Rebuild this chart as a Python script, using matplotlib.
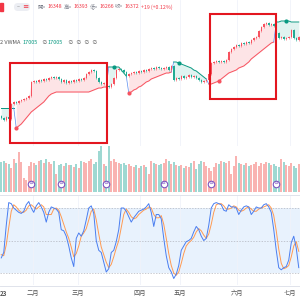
import numpy as np
import matplotlib.pyplot as plt
from matplotlib.patches import Rectangle, FancyBboxPatch
from matplotlib.lines import Line2D

plt.rcParams['font.family'] = ['Noto Sans CJK TC', 'DejaVu Sans']

# daily closes, Jan - Jul 2023
close = [14752, 14712, 14772, 14732, 15032, 15072, 15052, 15092, 15112, 15132,
         15152, 15192, 15472, 15492, 15472, 15512, 15492, 15532, 15512, 15552,
         15572, 15552, 15572, 15532, 15472, 15512, 15452, 15492, 15472, 15512,
         15492, 15532, 15512, 15552, 15632, 15672, 15712, 15692, 15552, 15472,
         15432, 15452, 15392, 15372, 15432, 15552, 15712, 15732, 15712, 15672,
         15592, 15632, 15652, 15672, 15652, 15692, 15672, 15712, 15692, 15732,
         15752, 15732, 15772, 15752, 15732, 15752, 15772, 15712, 15792, 15512,
         15552, 15532, 15592, 15552, 15572, 15612, 15572, 15592, 15552, 15512,
         15472, 15492, 15512, 15632, 15852, 15872, 15892, 15872, 15892, 15872,
         15912, 16072, 16132, 16172, 16212, 16192, 16252, 16232, 16272, 16252,
         16312, 16352, 16372, 16492, 16572, 16632, 16652, 16612, 16632, 16592,
         16452, 16352, 16372, 16332, 16352, 16372, 16512, 16352, 16312, 16372]
first_open = 14790

# trailing VWMA line
vwma = [14952] * 6 + \
       [14552, 14592, 14632, 14692, 14752, 14812, 14872, 14912, 14952, 14992,
        15032, 15072, 15132, 15192, 15232, 15252] + [15272] * 14 + \
       [15292, 15312, 15332, 15352, 15352, 15372, 15372] + \
       [15772, 15772, 15772, 15772, 15772, 15712, 15652, 15592] + \
       [15252, 15272, 15312, 15332, 15372, 15392, 15432, 15472, 15492, 15532,
        15552, 15572, 15592, 15612, 15632, 15652, 15652, 15672] + \
       [15872, 15872, 15852, 15832, 15812, 15792, 15772, 15752, 15712, 15692,
        15652, 15612, 15572, 15532] + \
       [15432, 15432, 15452, 15472, 15492, 15532, 15572, 15612, 15652, 15672,
        15692, 15712, 15752, 15772, 15792, 15832, 15872, 15932, 15972, 16012,
        16052, 16092, 16132, 16172, 16212, 16252, 16272] + \
       [16672, 16672, 16692, 16692, 16692, 16692, 16672, 16672, 16672, 16672]
seg_start = [0, 6, 43, 51, 69, 83, 110]
seg_dir = [-1, 1, -1, 1, -1, 1, -1]
dot_idx = [6, 45, 51, 71, 87, 114]

volume = [3000, 3100, 2900, 2800, 2400, 3300, 2900, 4000, 3000, 1400,
          1200, 2600, 3000, 2900, 2700, 3100, 3200, 2900, 3300, 3000,
          2800, 3100, 1800, 2700, 2800, 2600, 2900, 2700, 2700, 2500,
          2800, 2400, 3100, 3000, 2900, 3100, 3300, 2800, 3000, 4100,
          4600, 2800, 2600, 4600, 3100, 3300, 3000, 2900, 2800, 2900,
          2700, 2800, 2600, 2500, 2700, 2400, 2600, 2700, 2500, 1800,
          3100, 2900, 2800, 2700, 2800, 2900, 3300, 3100, 2800, 3000,
          2700, 2600, 2700, 2400, 2600, 2500, 2900, 3100, 2300, 2800,
          3100, 3000, 2600, 2400, 2100, 2500, 2900, 2800, 3100, 3000,
          2900, 3100, 1800, 2600, 3600, 2900, 2800, 2700, 2900, 2600,
          2700, 2800, 3000, 2600, 2900, 2800, 3000, 2900, 2700, 2800,
          2600, 2500, 3300, 3000, 2700, 2600, 2900, 2600, 2400, 2800]
event_idx = [12, 24, 42, 65, 84, 110]

stoch_k = [34, 39, 64, 85, 84, 80, 78, 76, 75, 77, 83, 86, 80, 76, 82, 85, 81, 76, 67, 76,
           81, 80, 79, 76, 60, 59, 54, 45, 34, 26, 52, 57, 54, 59, 69, 80, 82, 75, 50, 41,
           39, 30, 21, 24, 39, 41, 49, 60, 80, 80, 77, 72, 67, 71, 74, 77, 78, 79, 81, 84,
           76, 63, 74, 74, 70, 52, 36, 25, 21, 15, 19, 27, 41, 45, 49, 50, 52, 58, 63, 60,
           54, 50, 52, 64, 80, 84, 85, 84, 83, 78, 77, 83, 81, 81, 80, 74, 78, 81, 82, 81,
           74, 77, 81, 80, 80, 83, 84, 81, 76, 60, 41, 25, 23, 25, 26, 32, 48, 54, 43, 25]
stoch_d = [37, 36, 46, 62, 77, 83, 81, 78, 76, 76, 78, 82, 83, 81, 79, 81, 83, 81, 74, 74,
           74, 79, 80, 78, 72, 65, 58, 52, 44, 35, 38, 45, 54, 57, 61, 69, 77, 79, 69, 56,
           44, 37, 30, 25, 28, 35, 43, 50, 62, 74, 79, 76, 72, 70, 71, 74, 76, 78, 79, 81,
           80, 74, 71, 71, 73, 65, 52, 38, 27, 20, 18, 21, 29, 38, 45, 48, 50, 53, 58, 61,
           59, 55, 52, 56, 65, 76, 83, 84, 84, 82, 79, 79, 80, 82, 81, 78, 77, 78, 80, 81,
           79, 77, 77, 79, 80, 81, 82, 83, 80, 73, 59, 42, 29, 24, 25, 27, 35, 45, 49, 40]

month_pos = [1, 12.7, 30.7, 55.5, 71.5, 94.3, 115.5]
month_lbl = ['23', '二月', '三月', '四月', '五月', '六月', '七月']

up_c, dn_c = '#f7525f', '#22ab94'
n = len(close)
x = np.arange(n)
opens = [first_open] + close[:-1]
is_up = [c >= o for o, c in zip(opens, close)]

fig = plt.figure(figsize=(3, 3), dpi=100)


def pane(top, bottom):
    a = fig.add_axes([0, 1 - bottom / 300, 1, (bottom - top) / 300])
    a.set_xlim(-0.5, n - 0.5)
    a.axis('off')
    a.patch.set_alpha(0)
    return a


# price pane
ax = pane(0, 146)
ax.set_ylim(17112 - 20 * 146, 17112)
for m in month_pos[1:]:
    ax.axvline(m, color='#f0f3fa', lw=0.6, zorder=0)

bounds = seg_start + [n]
for k in range(len(seg_start)):
    s, e = bounds[k], bounds[k + 1]
    xs = x[s:e]
    col = up_c if seg_dir[k] > 0 else '#089981'
    fillc = '#fde4e6' if seg_dir[k] > 0 else '#e0f3f0'
    ax.fill_between(xs, close[s:e], vwma[s:e], color=fillc, lw=0, zorder=1)
    ax.plot(xs, vwma[s:e], color=col, lw=0.7, zorder=2)
    if e < n:
        ax.plot([e - 1, e], [vwma[e - 1], vwma[e]], color='#5b8def', lw=0.5, zorder=2)
for i in dot_idx:
    k = max(j for j in range(len(seg_start)) if seg_start[j] <= i)
    ax.scatter(i, vwma[i], s=9, color=up_c if seg_dir[k] > 0 else '#089981',
               zorder=4, lw=0)

for i in range(n):
    c = up_c if is_up[i] else dn_c
    lo, hi = min(opens[i], close[i]), max(opens[i], close[i])
    ax.vlines(i, lo - 25, hi + 25, color=c, lw=0.4, zorder=3)
    ax.bar(i, max(hi - lo, 12), bottom=lo, width=0.6, color=c, lw=0, zorder=3)

# highlight boxes
ax.add_patch(Rectangle((3.5, 14252), 38.8, 1600, fill=False, ec='#e3161f', lw=1.5, zorder=6))
ax.add_patch(Rectangle((83.5, 15132), 26.4, 1700, fill=False, ec='#e3161f', lw=1.5, zorder=6))

# volume overlay
axv = pane(146, 192)
axv.set_ylim(0, 4600)
vcol = ['#f9b3b1' if u else '#9ed8d2' for u in is_up]
axv.bar(x, volume, width=0.75, color=vcol, lw=0)
axv.scatter(event_idx, [800] * len(event_idx), s=22, facecolor='white',
            edgecolor='#7e57c2', lw=0.8, zorder=5)
for i in event_idx:
    axv.text(i, 800, '⇄', color='#7e57c2', fontsize=3, ha='center', va='center',
             zorder=6, family='DejaVu Sans')

# stochastic pane
axs = pane(195, 285)
axs.set_ylim(9, 92)
axs.axhspan(20, 80, color='#e8f2fd', lw=0, zorder=0)
for lv in (20, 50, 80):
    axs.axhline(lv, color='#b2b5be', lw=0.5, ls=(0, (2, 2)), zorder=1)
for m in month_pos[1:]:
    axs.axvline(m, color='#f0f3fa', lw=0.6, zorder=0)
axs.plot(x, stoch_d, color='#ff9a52', lw=0.7, zorder=2)
axs.plot(x, stoch_k, color='#4a7ef0', lw=0.7, zorder=3)

# pane separators and time axis
for yy in (194.5, 285.5):
    fig.add_artist(Line2D([0, 1], [1 - yy / 300] * 2, color='#e0e3eb', lw=0.7))
for p, lbl in zip(month_pos, month_lbl):
    fig.text((p + 0.5) / n, 1 - 293 / 300, lbl, fontsize=4.5, color='#555555',
             ha='center', va='center', fontweight='bold' if lbl == '23' else 'normal')

# legend header
fig.add_artist(Rectangle((0, 1 - 11 / 300), 3 / 300, 8 / 300, color='#f23645',
                         transform=fig.transFigure))
fig.add_artist(FancyBboxPatch((14 / 300, 1 - 11 / 300), 16 / 300, 8 / 300,
                              boxstyle='round,pad=0,rounding_size=0.013',
                              fc='#eceef3', ec='none', transform=fig.transFigure))
fig.text(18 / 300, 1 - 7 / 300, '–', fontsize=4, color='#777777', va='center', ha='center')
fig.text(25 / 300, 1 - 7 / 300, '≡', fontsize=4.5, color='#f23645', va='center', ha='center')
hdr = [(38, '開=', '16348'), (64, '高=', '16393'), (90, '低=', '16266'), (115, '收=', '16372')]
for px, lab, val in hdr:
    fig.text(px / 300, 1 - 7 / 300, lab, fontsize=3.8, color='#7a7e8a', va='center')
    fig.text((px + 9) / 300, 1 - 7 / 300, val, fontsize=3.8, color='#f23645', va='center')
fig.text(141 / 300, 1 - 7 / 300, '+19 (+0.12%)', fontsize=3.8, color='#f23645', va='center')

fig.text(0, 1 - 43 / 300, '2 VWMA', fontsize=4, color='#555555', va='center')
fig.text(23 / 300, 1 - 43 / 300, '17005', fontsize=4, color='#089981', va='center')
fig.text(41 / 300, 1 - 43 / 300, '∅', fontsize=4, color='#777777', va='center')
fig.text(48 / 300, 1 - 43 / 300, '17005', fontsize=4, color='#089981', va='center')
fig.text(68 / 300, 1 - 43 / 300, '∅  ∅  ∅  ∅', fontsize=4, color='#777777', va='center')

fig.savefig('out.png', dpi=100, facecolor='white')
